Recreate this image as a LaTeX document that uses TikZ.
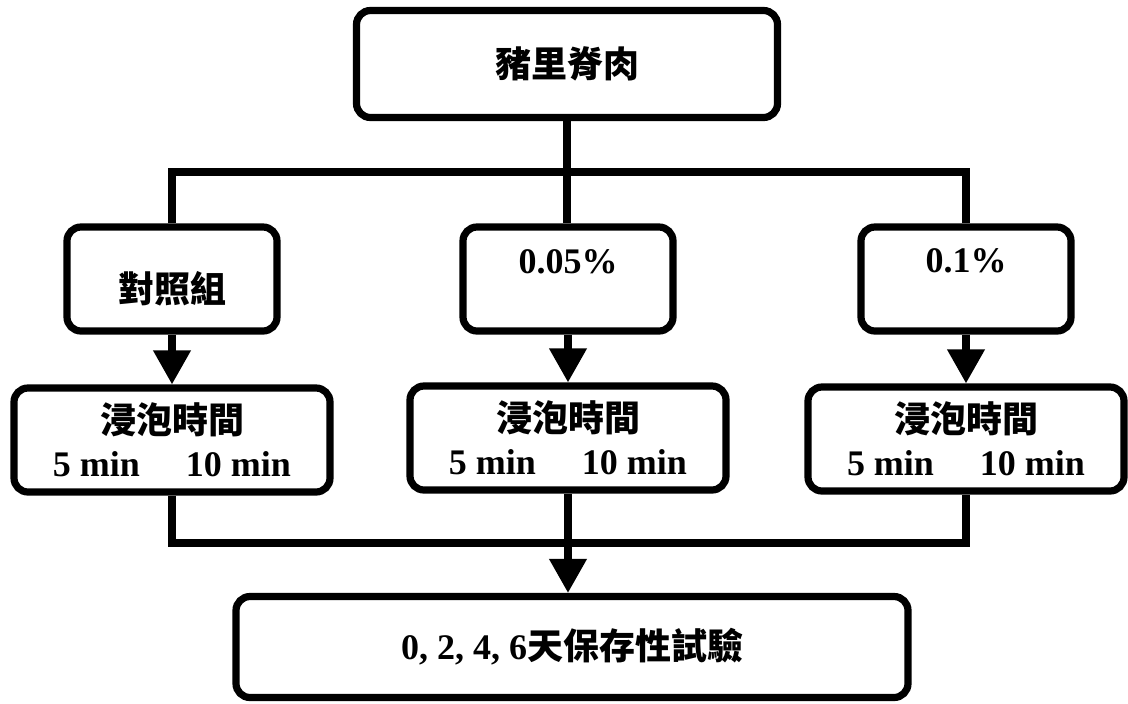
\documentclass[tikz,border=0pt]{standalone}
\usepackage{fontspec}
\setmainfont{Liberation Serif}
\newfontfamily\cjk{Noto Sans CJK TC}
\usetikzlibrary{arrows.meta}
\newcommand{\zh}[1]{{\cjk #1}}

\begin{document}
\begin{tikzpicture}[x=0.5pt, y=-0.5pt, line width=3.6pt,
    box/.style={draw, rounded corners=7pt, inner sep=0pt, align=center},
    arr/.style={-{Triangle[length=17pt, width=18pt]}},
    font=\fontsize{18}{21.5}\selectfont\bfseries]
  \useasboundingbox (0, 0) rectangle (1128, 703);
  % boxes
  \node[box, minimum width=210.5pt, minimum height=53.5pt] (pork) at (567, 64) {\zh{豬里脊肉}};
  \node[box, minimum width=105pt, minimum height=52pt] (ctrl) at (172, 279) {};
  \node[box, minimum width=105pt, minimum height=52pt] (lowc) at (568, 279) {};
  \node[box, minimum width=105pt, minimum height=52pt] (highc) at (966, 279) {};
  \node at ([yshift=-5pt]ctrl.center) (ctrltext) {\zh{對照組}};
  \node at ([yshift=8.5pt]lowc.center) (lowtext) {0.05\%};
  \node at ([yshift=9pt]highc.center) (hightext) {0.1\%};
  \node[box, minimum width=158pt, minimum height=52pt] (soaka) at (172, 440) {\zh{浸泡時間}\\5 min\hspace{23pt}10 min};
  \node[box, minimum width=158pt, minimum height=52pt] (soakb) at (568, 438) {\zh{浸泡時間}\\5 min\hspace{23pt}10 min};
  \node[box, minimum width=158pt, minimum height=52pt] (soakc) at (966, 439) {\zh{浸泡時間}\\5 min\hspace{23pt}10 min};
  \node[box, minimum width=336pt, minimum height=50.5pt] (test) at (572, 647) {0, 2, 4, 6\zh{天保存性試驗}};
  % connectors
  \coordinate (split) at (567, 172);
  \coordinate (merge) at (568, 543);
  \draw (pork.south -| split) -- (split);
  \draw (ctrl.north) |- (split) -| (highc.north);
  \draw (split) -- (split |- lowc.north);
  \draw[arr] (ctrl) -- (soaka);
  \draw[arr] (lowc) -- (soakb);
  \draw[arr] (highc) -- (soakc);
  \draw (soaka.south) |- (merge) -| (soakc.south);
  \draw[arr] (soakb.south) -- (soakb.south |- test.north);
\end{tikzpicture}
\end{document}
